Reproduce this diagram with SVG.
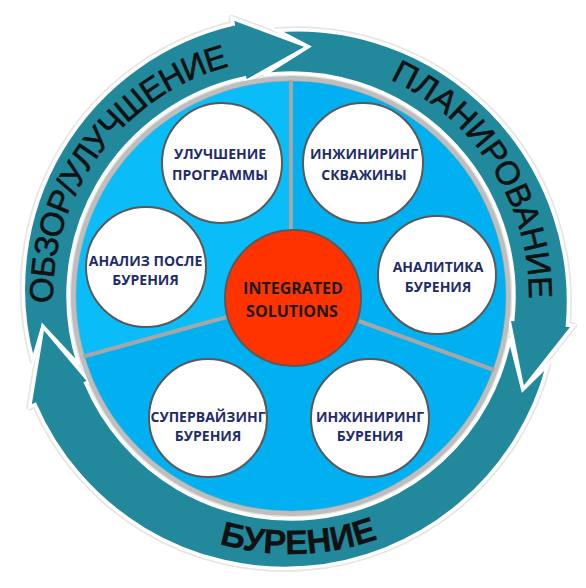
<svg xmlns="http://www.w3.org/2000/svg" width="586" height="588" viewBox="0 0 586 588">
<style>
.halo{fill:none;stroke:#E6E6E6;stroke-width:7;stroke-linejoin:round}
.arrow{fill:#22889B;stroke:#FFFFFF;stroke-width:3.5;stroke-linejoin:miter}
.ring{font-family:"Liberation Sans",Arial,sans-serif;font-size:33px;fill:#111111;stroke:#111111;stroke-width:0.6}
.node circle{fill:#FFFFFF;stroke:#595959;stroke-width:2}
.node text{font-family:"Open Sans","DejaVu Sans",sans-serif;font-weight:700;font-size:14px;fill:#1F2C6B;text-anchor:middle}
.div{stroke:#A6A6A6;stroke-width:4;stroke-linecap:butt}
</style>
<defs>
<path id="a1" d="M32.9,360.4 L42.9,326.5 L78.9,364.9 A223,223 0 0,1 244.6,77.9 L245.5,81.8 L308.4,46.6 L232.0,18.2 L233.2,24.1 A272,272 0 0,0 32.9,360.4 Z"/>
<path id="a2" d="M277.1,30.4 L308.4,46.6 L263.8,74.7 A223,223 0 0,1 512.8,319.3 L508.8,318.9 L522.8,389.7 L573.4,325.7 L567.5,325.1 A272,272 0 0,0 277.1,30.4 Z"/>
<path id="a3" d="M547.9,364.8 L522.8,389.7 L509.9,338.6 A223,223 0 0,1 85.7,383.1 L89.4,381.6 L42.9,326.5 L29.6,407.0 L35.1,404.6 A272,272 0 0,0 547.9,364.8 Z"/>
<path id="t1" d="M84.9,415 A238,238 0 0,1 344.5,64.1"/>
<path id="t2" d="M254.2,60.9 A238,238 0 0,1 488.1,429.4"/>
<path id="t3" d="M71.6,431.8 A258,258 0 0,0 518.3,418.1"/>
</defs>

<g id="cycle-arrows">
<use href="#a1" class="halo"/>
<use href="#a2" class="halo"/>
<use href="#a3" class="halo"/>
<use href="#a1" class="arrow"/>
<use href="#a2" class="arrow"/>
<use href="#a3" class="arrow"/>
<text class="ring" letter-spacing="-0.8"><textPath href="#t1" startOffset="50%" text-anchor="middle">ОБЗОР/УЛУЧШЕНИЕ</textPath></text>
<text class="ring"><textPath href="#t2" startOffset="50%" text-anchor="middle">ПЛАНИРОВАНИЕ</textPath></text>
<text class="ring" style="font-weight:700;font-size:34px;stroke-width:0.3"><textPath href="#t3" startOffset="50%" text-anchor="middle">БУРЕНИЕ</textPath></text>
</g>

<g id="disc">
<circle cx="291" cy="296" r="217" fill="#00B0F0"/>
<path d="M291,296 L82.7,356.9 A217,217 0 0,1 291,79 Z" fill="#0ABDF8"/>
<circle cx="291" cy="296" r="217.5" fill="none" stroke="#BEBEBE" stroke-width="5"/>
<circle cx="291" cy="296" r="215" fill="none" stroke="#9E9E9E" stroke-width="0.8" opacity="0.6"/>
</g>

<g id="connectors">
<line class="div" x1="291" y1="80" x2="291" y2="232"/>
<line class="div" x1="83.5" y1="356.5" x2="227" y2="317"/>
<line class="div" x1="494" y1="370" x2="359" y2="321"/>
</g>

<g id="n-center">
<circle cx="293" cy="298" r="68" fill="#FF3300" stroke="#595959" stroke-width="2"/>
<text x="293" y="293.5" font-family="'Open Sans','DejaVu Sans',sans-serif" font-weight="700" font-size="16" fill="#1A1A1A" text-anchor="middle">INTEGRATED</text>
<text x="292" y="317" font-family="'Open Sans','DejaVu Sans',sans-serif" font-weight="700" font-size="16" fill="#1A1A1A" text-anchor="middle">SOLUTIONS</text>
</g>

<g id="n-program" class="node">
<circle cx="222" cy="163" r="60"/>
<text x="220" y="159">УЛУЧШЕНИЕ</text>
<text x="220" y="180">ПРОГРАММЫ</text>
</g>
<g id="n-well" class="node">
<circle cx="363" cy="163" r="60"/>
<text x="364" y="159">ИНЖИНИРИНГ</text>
<text x="364" y="180">СКВАЖИНЫ</text>
</g>
<g id="n-post" class="node">
<circle cx="146" cy="267" r="60"/>
<text x="145.5" y="265.5">АНАЛИЗ ПОСЛЕ</text>
<text x="145.5" y="285">БУРЕНИЯ</text>
</g>
<g id="n-analytics" class="node">
<circle cx="437" cy="275" r="59"/>
<text x="438" y="272">АНАЛИТИКА</text>
<text x="438" y="291.5">БУРЕНИЯ</text>
</g>
<g id="n-supervising" class="node">
<circle cx="208" cy="418" r="59"/>
<text x="208" y="421.5">СУПЕРВАЙЗИНГ</text>
<text x="208" y="441">БУРЕНИЯ</text>
</g>
<g id="n-engineering" class="node">
<circle cx="370" cy="418" r="59"/>
<text x="370" y="421.5">ИНЖИНИРИНГ</text>
<text x="370" y="441">БУРЕНИЯ</text>
</g>
</svg>
